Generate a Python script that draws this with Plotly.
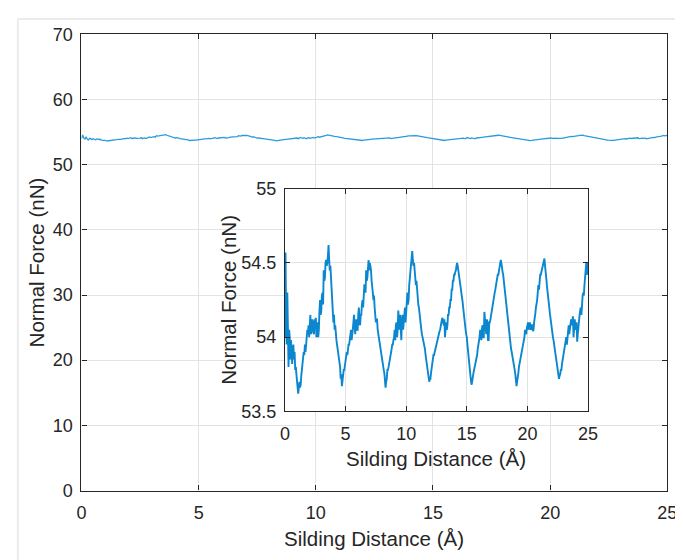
import plotly.graph_objects as go

# Sliding distance (Angstrom), sampled every 0.05 A
distance = [round(i * 0.05, 2) for i in range(501)]

# Normal force (nN) (one row per Angstrom)
normal_force = [
    54.00, 54.57, 54.10, 53.95, 54.30, 53.90, 53.80, 54.05, 54.00, 53.85, 53.98, 53.90, 53.82, 53.92, 53.95, 53.85, 53.90, 53.78, 53.80, 53.75,
    53.72, 53.66, 53.62, 53.68, 53.70, 53.66, 53.68, 53.74, 53.78, 53.82, 53.85, 53.90, 53.88, 53.95, 53.90, 53.98, 53.97, 54.05, 54.02, 54.08,
    54.00, 54.10, 54.15, 54.02, 54.05, 54.12, 54.10, 54.03, 54.02, 54.12, 54.08, 54.13, 54.00, 54.08, 54.10, 54.00, 54.05, 54.18, 54.25, 54.15,
    54.18, 54.28, 54.30, 54.22, 54.45, 54.38, 54.40, 54.50, 54.52, 54.48, 54.50, 54.55, 54.62, 54.52, 54.45, 54.48, 54.40, 54.30, 54.22, 54.15,
    54.10, 54.15, 54.05, 54.08, 54.00, 53.98, 53.95, 53.92, 53.88, 53.85, 53.82, 53.80, 53.72, 53.75, 53.67, 53.72, 53.75, 53.78, 53.78, 53.82,
    53.85, 53.88, 53.90, 53.88, 53.92, 53.95, 53.95, 54.00, 54.00, 54.05, 53.98, 54.05, 54.05, 54.10, 54.15, 54.08, 54.02, 54.10, 54.12, 54.05,
    54.05, 54.15, 54.20, 54.10, 54.08, 54.15, 54.15, 54.22, 54.25, 54.20, 54.30, 54.35, 54.35, 54.30, 54.45, 54.38, 54.40, 54.50, 54.52, 54.45,
    54.50, 54.48, 54.45, 54.38, 54.35, 54.30, 54.25, 54.28, 54.20, 54.15, 54.10, 54.12, 54.12, 54.05, 54.02, 54.00, 53.98, 53.95, 53.92, 53.88,
    53.85, 53.82, 53.80, 53.78, 53.76, 53.72, 53.66, 53.70, 53.72, 53.78, 53.78, 53.80, 53.82, 53.85, 53.88, 53.90, 53.92, 53.95, 53.95, 53.98,
    54.00, 54.05, 53.98, 54.08, 54.10, 54.00, 54.05, 54.18, 54.10, 54.05, 54.15, 54.00, 53.98, 54.12, 54.15, 54.05, 54.12, 54.20, 54.20, 54.10,
    54.15, 54.25, 54.30, 54.22, 54.25, 54.35, 54.40, 54.45, 54.45, 54.50, 54.58, 54.52, 54.48, 54.50, 54.45, 54.40, 54.35, 54.38, 54.30, 54.28,
    54.22, 54.20, 54.15, 54.12, 54.08, 54.05, 54.02, 54.00, 53.98, 53.96, 53.95, 53.92, 53.88, 53.85, 53.82, 53.80, 53.78, 53.74, 53.70, 53.72,
    53.72, 53.76, 53.80, 53.82, 53.85, 53.88, 53.88, 53.90, 53.92, 53.93, 53.95, 53.96, 53.98, 54.00, 54.02, 54.04, 54.05, 54.08, 54.10, 54.12,
    54.13, 54.10, 54.08, 54.12, 54.00, 54.05, 54.10, 54.05, 54.08, 54.15, 54.15, 54.20, 54.20, 54.25, 54.25, 54.32, 54.32, 54.38, 54.38, 54.42,
    54.42, 54.44, 54.45, 54.48, 54.50, 54.48, 54.45, 54.44, 54.42, 54.38, 54.35, 54.30, 54.28, 54.24, 54.20, 54.15, 54.12, 54.08, 54.05, 54.02,
    54.00, 53.95, 53.90, 53.85, 53.82, 53.78, 53.75, 53.70, 53.68, 53.72, 53.72, 53.76, 53.78, 53.80, 53.80, 53.82, 53.85, 53.88, 53.92, 53.95,
    53.95, 54.00, 54.05, 53.98, 53.98, 54.06, 54.08, 54.00, 54.00, 54.17, 54.10, 54.02, 54.02, 54.12, 54.10, 53.98, 53.98, 54.10, 54.10, 54.12,
    54.15, 54.18, 54.20, 54.22, 54.25, 54.28, 54.30, 54.32, 54.35, 54.38, 54.40, 54.42, 54.42, 54.45, 54.48, 54.50, 54.52, 54.50, 54.45, 54.44,
    54.42, 54.38, 54.35, 54.30, 54.25, 54.22, 54.18, 54.15, 54.10, 54.06, 54.02, 54.00, 53.95, 53.92, 53.90, 53.88, 53.85, 53.82, 53.80, 53.78,
    53.75, 53.72, 53.67, 53.70, 53.72, 53.76, 53.80, 53.82, 53.85, 53.86, 53.88, 53.90, 53.92, 53.95, 53.98, 54.00, 54.05, 54.02, 54.02, 54.06,
    54.08, 54.10, 54.05, 54.08, 54.10, 54.06, 54.05, 54.08, 54.08, 54.04, 54.05, 54.10, 54.12, 54.16, 54.20, 54.22, 54.25, 54.30, 54.35, 54.32,
    54.38, 54.42, 54.42, 54.44, 54.45, 54.48, 54.48, 54.50, 54.53, 54.48, 54.45, 54.40, 54.35, 54.32, 54.28, 54.24, 54.20, 54.16, 54.12, 54.08,
    54.05, 54.02, 54.00, 53.98, 53.95, 53.92, 53.88, 53.85, 53.82, 53.78, 53.75, 53.72, 53.72, 53.74, 53.75, 53.78, 53.78, 53.82, 53.85, 53.88,
    53.90, 53.92, 53.95, 53.98, 54.00, 53.95, 54.02, 54.05, 54.08, 54.02, 54.05, 54.10, 54.12, 54.08, 54.10, 54.14, 54.00, 54.05, 54.12, 54.08,
    54.05, 54.10, 53.97, 54.02, 54.08, 54.12, 54.15, 54.18, 54.20, 54.15, 54.25, 54.28, 54.30, 54.28, 54.35, 54.40, 54.45, 54.50, 54.42, 54.45,
    54.50,
]

main_x_ticks = [0, 5, 10, 15, 20, 25]
main_y_ticks = [0, 10, 20, 30, 40, 50, 60, 70]
inset_x_ticks = [0, 5, 10, 15, 20, 25]
inset_y_ticks = [53.5, 54, 54.5, 55]
inset_y_labels = ["53.5", "54", "54.5", "55"]

x_title = "Silding Distance (Å)"
y_title = "Normal Force (nN)"

W, H = 683, 560
OFF = 8  # default page margin around the plot div
FONT = "Liberation Sans, Arial, sans-serif"
AX = "#262626"
GRID = "#e3e3e3"
LINE = "#0b87cf"
TICK_SIZE = 18
TITLE_SIZE = 20.5


def px(x):
    return min(1.0, max(0.0, (x - OFF) / W))


def py(y):
    return min(1.0, max(0.0, 1 - (y - OFF) / H))


fig = go.Figure()
fig.add_trace(go.Scatter(x=distance, y=normal_force, mode="lines",
                         line=dict(color="#2a9bdb", width=1.3),
                         xaxis="x", yaxis="y", showlegend=False, hoverinfo="skip"))
fig.add_trace(go.Scatter(x=distance, y=normal_force, mode="lines",
                         line=dict(color=LINE, width=1.9),
                         xaxis="x2", yaxis="y2", showlegend=False, hoverinfo="skip"))

common = dict(showline=True, linecolor=AX, linewidth=1.2, mirror="ticks",
              ticks="inside", ticklen=5, tickcolor=AX, tickwidth=1,
              showgrid=True, gridcolor=GRID, gridwidth=1, zeroline=False,
              tickfont=dict(family=FONT, size=TICK_SIZE, color=AX), fixedrange=True)

fig.update_layout(
    width=W, height=H,
    margin=dict(l=0, r=0, t=0, b=0),
    paper_bgcolor="white", plot_bgcolor="white",
    xaxis=dict(domain=[px(78), px(677)], range=[0, 25], tickvals=main_x_ticks,
               anchor="y", ticklabelstandoff=6, **common),
    yaxis=dict(domain=[py(498), py(25)], range=[0, 70], tickvals=main_y_ticks,
               anchor="x", ticklabelstandoff=4, **common),
    xaxis2=dict(domain=[px(286), px(596)], range=[0, 25], tickvals=inset_x_ticks,
                anchor="y2", ticklabelstandoff=6, **common),
    yaxis2=dict(domain=[py(416), py(185)], range=[53.5, 55], tickvals=inset_y_ticks,
                ticktext=inset_y_labels, anchor="x2", ticklabelstandoff=4, **common),
    shapes=[
        dict(type="line", xref="paper", yref="paper", x0=px(13), x1=1.05, y0=py(9), y1=py(9),
             line=dict(color="#ebebeb", width=2)),
        dict(type="line", xref="paper", yref="paper", x0=px(13), x1=px(13), y0=py(9), y1=-0.05,
             line=dict(color="#ebebeb", width=2)),
    ],
    annotations=[
        dict(text=x_title, x=px(377), y=py(548), xref="paper", yref="paper",
             xanchor="center", yanchor="middle",
             showarrow=False, font=dict(family=FONT, size=TITLE_SIZE, color=AX)),
        dict(text=y_title, x=px(33), y=py(261), xref="paper", yref="paper", textangle=-90,
             xanchor="center", yanchor="middle",
             showarrow=False, font=dict(family=FONT, size=TITLE_SIZE, color=AX)),
        dict(text=x_title, x=px(441), y=py(465), xref="paper", yref="paper",
             xanchor="center", yanchor="middle",
             showarrow=False, font=dict(family=FONT, size=TITLE_SIZE, color=AX)),
        dict(text=y_title, x=px(228), y=py(300), xref="paper", yref="paper", textangle=-90,
             xanchor="center", yanchor="middle",
             showarrow=False, font=dict(family=FONT, size=TITLE_SIZE, color=AX)),
    ],
)

fig.write_html("out.html")
